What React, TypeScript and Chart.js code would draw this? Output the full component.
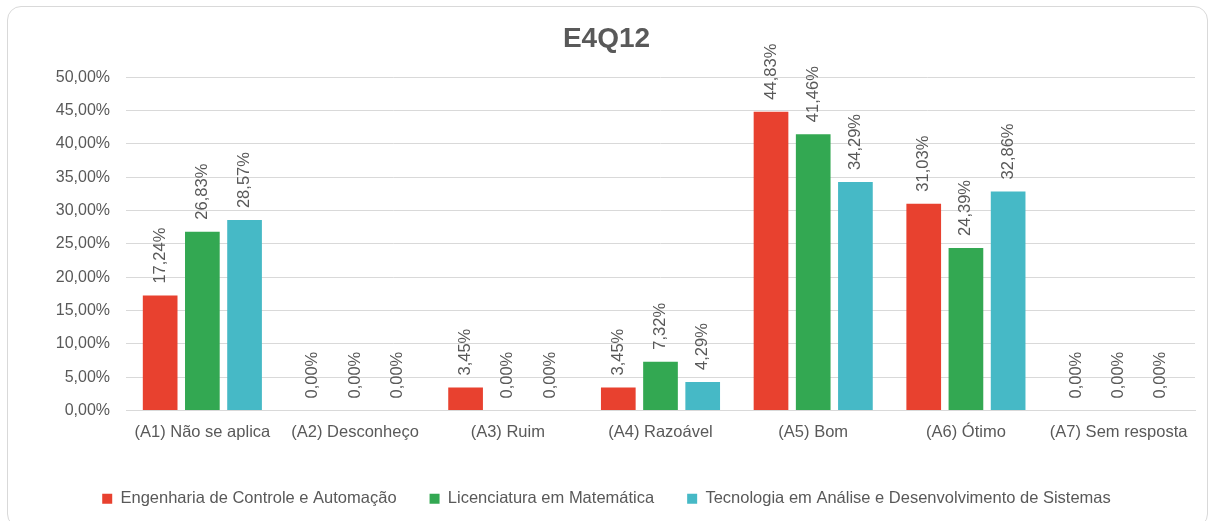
import React, { useEffect, useRef } from "react";
import { Chart, registerables } from "chart.js";

Chart.register(...registerables);

const categories = [
  "(A1) Não se aplica",
  "(A2) Desconheço",
  "(A3) Ruim",
  "(A4) Razoável",
  "(A5) Bom",
  "(A6) Ótimo",
  "(A7) Sem resposta",
];
const seriesNames = [
  "Engenharia de Controle e Automação",
  "Licenciatura em Matemática",
  "Tecnologia em Análise e Desenvolvimento de Sistemas",
];
const engenhariaValues = [17.24, 0, 3.45, 3.45, 44.83, 31.03, 0];
const licenciaturaValues = [26.83, 0, 0, 7.32, 41.46, 24.39, 0];
const tecnologiaValues = [28.57, 0, 0, 4.29, 34.29, 32.86, 0];
const seriesColors = ["#E8412F", "#33A852", "#46B9C6"];
const chartTitle = "E4Q12";

const FONT = "'Liberation Sans', Arial, sans-serif";
const TEXT = "#595959";

const fmt = (v: number) => v.toFixed(2).replace(".", ",") + "%";

const dataLabels = {
  id: "dataLabels",
  afterDatasetsDraw(chart: any) {
    const ctx = chart.ctx;
    ctx.save();
    ctx.font = `16.5px ${FONT}`;
    ctx.fillStyle = TEXT;
    ctx.textAlign = "left";
    ctx.textBaseline = "middle";
    chart.data.datasets.forEach((ds: any, di: number) => {
      const meta = chart.getDatasetMeta(di);
      meta.data.forEach((bar: any, i: number) => {
        const v = ds.data[i];
        ctx.save();
        ctx.translate(bar.x, bar.y - 12);
        ctx.rotate(-Math.PI / 2);
        ctx.fillText(fmt(v), 0, 0);
        ctx.restore();
      });
    });
    ctx.restore();
  },
};

export default function App() {
  const ref = useRef<HTMLCanvasElement>(null);
  useEffect(() => {
    if (!ref.current) return;
    const values = [engenhariaValues, licenciaturaValues, tecnologiaValues];
    const chart = new Chart(ref.current, {
      type: "bar",
      data: {
        labels: categories,
        datasets: seriesNames.map((name, k) => ({
          label: name,
          data: values[k],
          backgroundColor: seriesColors[k],
          borderWidth: 0,
          categoryPercentage: 0.829,
          barPercentage: 0.822,
        })),
      },
      options: {
        animation: false,
        responsive: false,
        maintainAspectRatio: false,
        layout: { padding: { top: 0, left: 18, right: 18, bottom: 4 } },
        plugins: {
          title: {
            display: true,
            text: chartTitle,
            color: TEXT,
            font: { family: FONT, size: 28, weight: "bold" },
            padding: { top: 22, bottom: 21.6 },
          },
          legend: {
            position: "bottom",
            labels: {
              color: TEXT,
              font: { family: FONT, size: 16.5 },
              boxWidth: 10,
              boxHeight: 10,
              padding: 33,
            },
          },
          tooltip: { enabled: false },
        },
        scales: {
          x: {
            grid: { display: false, drawTicks: false },
            border: { display: true, color: "#d9d9d9" },
            ticks: {
              color: TEXT,
              font: { family: FONT, size: 16.5 },
              padding: 12,
              autoSkip: false,
              maxRotation: 0,
            },
            afterFit: (s: any) => {
              s.height = 47;
            },
          },
          y: {
            min: 0,
            max: 50,
            grid: { color: "#d9d9d9", drawTicks: false },
            border: { display: false },
            ticks: {
              stepSize: 5,
              color: TEXT,
              font: { family: FONT, size: 16 },
              padding: 16,
              callback: (v: any) => fmt(Number(v)),
            },
            afterFit: (s: any) => {
              s.width = 108;
            },
          },
        },
      },
      plugins: [dataLabels],
    });
    return () => chart.destroy();
  }, []);

  return (
    <div
      style={{
        position: "fixed",
        left: 0,
        top: 0,
        width: 1213,
        height: 521,
        background: "#fff",
        overflow: "hidden",
      }}
    >
      <div
        style={{
          position: "absolute",
          left: 7,
          top: 6,
          width: 1201,
          height: 522,
          border: "1px solid #d9d9d9",
          borderRadius: 14,
          boxSizing: "border-box",
        }}
      />
      <canvas
        ref={ref}
        width={1213}
        height={521}
        style={{ position: "absolute", left: 0, top: 0, width: 1213, height: 521 }}
      />
    </div>
  );
}
